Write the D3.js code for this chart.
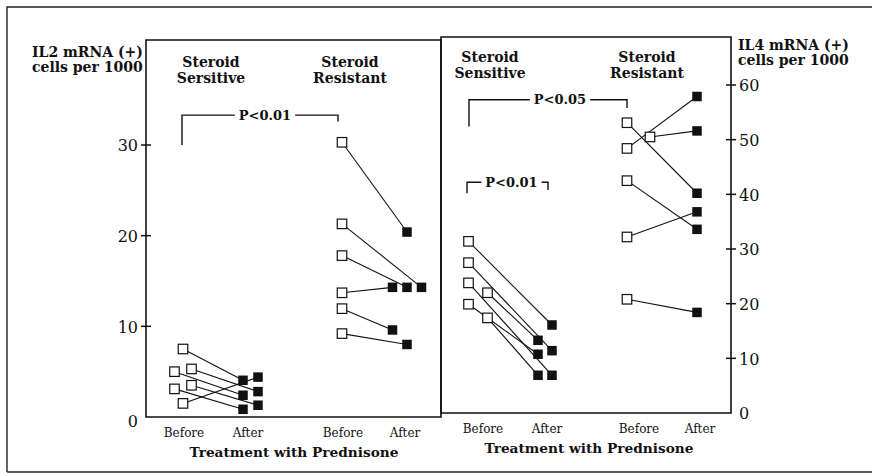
<!DOCTYPE html>
<html>
<head>
<meta charset="utf-8">
<script src="https://cdn.jsdelivr.net/npm/d3@7"></script>
<style>
  body { margin: 0; background: #fff; }
  svg { display: block; font-family: "DejaVu Serif", serif; }
</style>
</head>
<body>
<div id="chart"></div>
<script>
// ---- data ----
const columnKeys = ["sensBefore", "sensAfter", "resBefore", "resAfter"];
const columnLabels = ["Before", "After", "Before", "After"];

// IL2 panel (left axis, 0-30)
const il2Ticks = [0, 10, 20, 30];
const il2SensBefore = [7.5, 5.0, 5.3, 3.5, 3.1, 1.5];
const il2SensBeforeSlot = [0, -1, 1, 1, -1, 0];
const il2SensAfter = [4.05, 2.4, 2.8, 1.3, 0.85, 4.4];
const il2SensAfterSlot = [-1, -1, 1, 1, -1, 1];
const il2ResBefore = [30.3, 21.3, 17.8, 13.7, 11.95, 9.2];
const il2ResBeforeSlot = [0, 0, 0, 0, 0, 0];
const il2ResAfter = [20.4, 14.3, 14.3, 14.3, 9.6, 8.0];
const il2ResAfterSlot = [0, 1, 0, -1, -1, 0];

// IL4 panel (right axis, 0-60)
const il4Ticks = [0, 10, 20, 30, 40, 50, 60];
const il4SensBefore = [31.4, 27.5, 23.8, 22.0, 19.9, 17.4];
const il4SensBeforeSlot = [-1, -1, -1, 1, -1, 1];
const il4SensAfter = [16.1, 11.4, 6.9, 13.3, 10.75, 6.9];
const il4SensAfterSlot = [1, 1, 1, -1, -1, -1];
const il4ResBefore = [53.1, 48.4, 50.5, 42.5, 32.2, 20.8];
const il4ResBeforeSlot = [-1, -1, 1, -1, -1, -1];
const il4ResAfter = [40.2, 57.9, 51.6, 33.6, 36.8, 18.4];
const il4ResAfterSlot = [0, 0, 0, 0, 0, 0];

// significance brackets: [fromColumn, toColumn, leftFoot, top, rightFoot, label]
const il2Brackets = [["sensBefore", "resBefore", 30, 33.3, 32.6, "P<0.01"]];
const il4Brackets = [
  ["sensBefore", "resBefore", 52.4, 57.3, 55.8, "P<0.05"],
  ["sensBefore", "sensAfter", 40.2, 42.2, 40.8, "P<0.01"]
];

const svg = d3.select("#chart").append("svg")
  .attr("width", 872)
  .attr("height", 476);

// outer frame
svg.append("path")
  .attr("d", "M7,472 L7,7 L872,7 M7,472 L872,472")
  .attr("fill", "none")
  .attr("stroke", "#222")
  .attr("stroke-width", 1.4);

function pairs(before, beforeSlot, after, afterSlot, bKey, aKey) {
  return before.map((v, i) => ({
    b: { col: bKey, slot: beforeSlot[i], v: v },
    a: { col: aKey, slot: afterSlot[i], v: after[i] }
  }));
}

function drawPanel(cfg) {
  const g = svg.append("g");
  const y = d3.scaleLinear().domain(cfg.domain).range([cfg.bottom, cfg.yTop]);
  const xCol = d3.scaleOrdinal().domain(columnKeys).range(cfg.colX);
  const slotW = d3.scaleOrdinal().domain(columnKeys).range(cfg.slotW);
  const px = p => xCol(p.col) + p.slot * slotW(p.col);

  // panel box
  g.append("path")
    .attr("d", `M${cfg.left},${cfg.bottom} L${cfg.left},${cfg.top} L${cfg.right},${cfg.top} L${cfg.right},${cfg.bottom} Z`)
    .attr("fill", "none")
    .attr("stroke", "#111")
    .attr("stroke-width", 1.6);

  // y axis
  const axisX = cfg.axisSide === "left" ? cfg.left : cfg.right;
  const axis = (cfg.axisSide === "left" ? d3.axisLeft(y) : d3.axisRight(y))
    .tickValues(cfg.ticks)
    .tickSize(0)
    .tickPadding(cfg.axisSide === "left" ? 8 : 8)
    .tickFormat(d3.format("d"));
  const ax = g.append("g")
    .attr("transform", `translate(${axisX},0)`)
    .call(axis);
  ax.select(".domain").remove();
  ax.selectAll("text")
    .attr("font-family", "DejaVu Serif")
    .attr("font-size", 16)
    .attr("fill", "#111")
    .attr("dy", d => d === 0 && cfg.axisSide === "left" ? "0.62em" : "0.36em");
  g.selectAll(".ytick")
    .data(cfg.ticks.filter(t => t > 0))
    .enter().append("line")
    .attr("x1", axisX - 5).attr("x2", axisX + 5)
    .attr("y1", d => y(d)).attr("y2", d => y(d))
    .attr("stroke", "#111")
    .attr("stroke-width", 1.5);

  // brackets
  cfg.brackets.forEach((b, i) => {
    const lay = cfg.bracketLayout[i];
    const x0 = xCol(b[0]) + lay.inset[0];
    const x1 = xCol(b[1]) + lay.inset[1];
    const yTop = y(b[3]);
    const mid = (x0 + x1) / 2 + lay.shift;
    const t = g.append("text")
      .attr("x", mid).attr("y", yTop + 4.5)
      .attr("text-anchor", "middle")
      .attr("font-weight", "bold")
      .attr("font-size", 13)
      .attr("fill", "#111")
      .text(b[5]);
    const w = t.node().getComputedTextLength() / 2 + 4;
    g.append("path")
      .attr("d", `M${x0},${y(b[2])} L${x0},${yTop} L${mid - w},${yTop} M${mid + w},${yTop} L${x1},${yTop} L${x1},${y(b[4])}`)
      .attr("fill", "none")
      .attr("stroke", "#111")
      .attr("stroke-width", 1.4);
  });

  // connecting lines
  g.selectAll(".link")
    .data(cfg.links)
    .enter().append("line")
    .attr("x1", d => px(d.b)).attr("y1", d => y(d.b.v))
    .attr("x2", d => px(d.a)).attr("y2", d => y(d.a.v))
    .attr("stroke", "#111")
    .attr("stroke-width", 1.1);

  // squares
  const s = 9.5;
  g.selectAll(".before")
    .data(cfg.links.map(d => d.b))
    .enter().append("rect")
    .attr("x", d => px(d) - s / 2).attr("y", d => y(d.v) - s / 2)
    .attr("width", s).attr("height", s)
    .attr("fill", "#fff")
    .attr("stroke", "#111")
    .attr("stroke-width", 1.2);
  g.selectAll(".after")
    .data(cfg.links.map(d => d.a))
    .enter().append("rect")
    .attr("x", d => px(d) - s / 2).attr("y", d => y(d.v) - s / 2)
    .attr("width", s).attr("height", s)
    .attr("fill", "#111");

  // column labels
  g.selectAll(".collabel")
    .data(columnKeys)
    .enter().append("text")
    .attr("x", (d, i) => cfg.labelX[i])
    .attr("y", cfg.bottom + 20)
    .attr("text-anchor", "middle")
    .attr("font-size", 12)
    .attr("fill", "#111")
    .text((d, i) => columnLabels[i]);

  g.append("text")
    .attr("x", cfg.xTitleX).attr("y", cfg.bottom + 40)
    .attr("text-anchor", "middle")
    .attr("font-weight", "bold")
    .attr("font-size", 13.7)
    .attr("fill", "#111")
    .text("Treatment with Prednisone");

  // group headings
  cfg.groups.forEach(gr => {
    const t = g.append("text")
      .attr("x", gr.x).attr("y", cfg.groupY)
      .attr("text-anchor", "middle")
      .attr("font-weight", "bold")
      .attr("font-size", 14)
      .attr("fill", "#111");
    gr.lines.forEach((l, i) => {
      t.append("tspan").attr("x", gr.x).attr("dy", i === 0 ? 0 : 16).text(l);
    });
  });

  // y title
  const yt = g.append("text")
    .attr("x", cfg.yTitleX).attr("y", cfg.yTitleY)
    .attr("font-weight", "bold")
    .attr("font-size", 14)
    .attr("fill", "#111");
  ["mRNA (+)", "cells per 1000"].forEach((l, i) => {
    yt.append("tspan").attr("x", cfg.yTitleX).attr("dy", i === 0 ? 0 : 15)
      .text(i === 0 ? cfg.marker + " " + l : l);
  });
}

drawPanel({
  domain: [0, 30], ticks: il2Ticks, bottom: 417, yTop: 145,
  left: 146, right: 441, top: 40, axisSide: "left",
  colX: [183, 250.5, 342, 407], slotW: [8.5, 7.5, 0, 14.5],
  labelX: [184, 248, 343, 405], xTitleX: 294,
  bracketLayout: [{ inset: [-1, -4], shift: 5 }], brackets: il2Brackets,
  links: pairs(il2SensBefore, il2SensBeforeSlot, il2SensAfter, il2SensAfterSlot, "sensBefore", "sensAfter")
    .concat(pairs(il2ResBefore, il2ResBeforeSlot, il2ResAfter, il2ResAfterSlot, "resBefore", "resAfter")),
  groups: [{ x: 211, lines: ["Steroid", "Sersitive"] }, { x: 350, lines: ["Steroid", "Resistant"] }],
  groupY: 67, marker: "IL2", yTitleX: 32, yTitleY: 57
});

drawPanel({
  domain: [0, 60], ticks: il4Ticks, bottom: 413, yTop: 85,
  left: 441, right: 731, top: 37, axisSide: "right",
  colX: [478, 545, 638.5, 697], slotW: [9.5, 7, 11.5, 0],
  labelX: [483, 547, 639, 700], xTitleX: 589,
  bracketLayout: [{ inset: [-9, -11.5], shift: 12 }, { inset: [-11, 3], shift: 4 }],
  brackets: il4Brackets,
  links: pairs(il4SensBefore, il4SensBeforeSlot, il4SensAfter, il4SensAfterSlot, "sensBefore", "sensAfter")
    .concat(pairs(il4ResBefore, il4ResBeforeSlot, il4ResAfter, il4ResAfterSlot, "resBefore", "resAfter")),
  groups: [{ x: 490, lines: ["Steroid", "Sensitive"] }, { x: 647, lines: ["Steroid", "Resistant"] }],
  groupY: 62, marker: "IL4", yTitleX: 738, yTitleY: 50
});
</script>
</body>
</html>
